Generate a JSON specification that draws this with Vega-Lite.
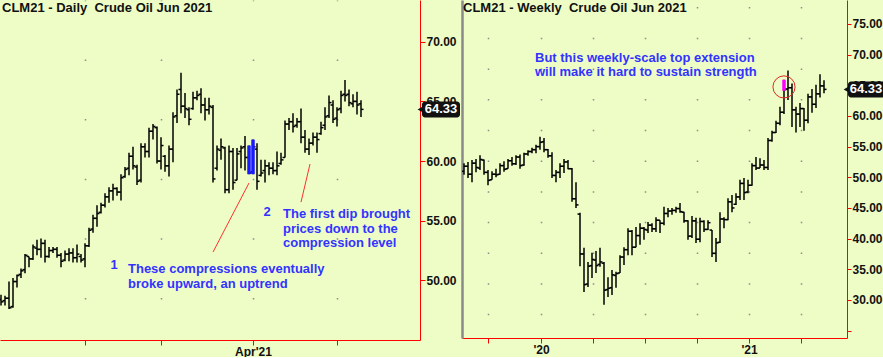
{
"$schema":"https://vega.github.io/schema/vega-lite/v6.json",
"background":"#EEFDC6",
"padding":0,
"autosize":{"type":"pad"},
"bounds":"flush",
"spacing":42,
"config":{"view":{"stroke":null},"font":"Liberation Sans","axis":{"labelFont":"Liberation Sans"}},
"datasets":{
"daily":[
{"i":0,"o":48.4,"h":48.8,"l":47.9,"c":48.2},{"i":1,"o":48.3,"h":48.7,"l":47.9,"c":48.5},{"i":2,"o":48.5,"h":49.9,"l":47.6,"c":47.7},{"i":3,"o":47.8,"h":50.2,"l":47.7,"c":49.9},{"i":4,"o":49.9,"h":50.5,"l":49.4,"c":50.4},{"i":5,"o":50.5,"h":51.0,"l":50.2,"c":50.8},{"i":6,"o":50.9,"h":52.2,"l":50.6,"c":52.1},{"i":7,"o":52.0,"h":52.0,"l":51.1,"c":51.8},{"i":8,"o":51.8,"h":53.0,"l":51.7,"c":52.8},{"i":9,"o":52.7,"h":53.4,"l":52.1,"c":52.6},
{"i":10,"o":52.6,"h":53.5,"l":51.9,"c":53.1},{"i":11,"o":53.1,"h":53.4,"l":51.5,"c":52.0},{"i":12,"o":52.0,"h":52.8,"l":51.9,"c":52.5},{"i":13,"o":52.5,"h":52.8,"l":52.3,"c":52.6},{"i":14,"o":52.6,"h":52.8,"l":51.9,"c":52.1},{"i":15,"o":52.1,"h":52.3,"l":51.1,"c":51.6},{"i":16,"o":51.7,"h":52.5,"l":51.6,"c":52.2},{"i":17,"o":52.2,"h":52.7,"l":51.6,"c":52.3},{"i":18,"o":52.3,"h":52.7,"l":51.5,"c":51.9},{"i":19,"o":51.9,"h":53.0,"l":51.5,"c":52.2},
{"i":20,"o":52.0,"h":52.2,"l":51.5,"c":51.7},{"i":21,"o":51.8,"h":53.1,"l":51.1,"c":52.9},{"i":22,"o":52.9,"h":54.4,"l":52.8,"c":54.2},{"i":23,"o":54.3,"h":55.5,"l":54.0,"c":55.2},{"i":24,"o":55.2,"h":56.3,"l":54.5,"c":55.6},{"i":25,"o":55.7,"h":56.5,"l":55.6,"c":56.3},{"i":26,"o":56.3,"h":57.3,"l":56.1,"c":57.0},{"i":27,"o":57.0,"h":57.8,"l":56.5,"c":57.5},{"i":28,"o":57.5,"h":58.1,"l":56.7,"c":57.7},{"i":29,"o":57.7,"h":57.8,"l":57.1,"c":57.4},
{"i":30,"o":57.4,"h":58.9,"l":56.7,"c":58.6},{"i":31,"o":58.7,"h":59.5,"l":58.6,"c":59.3},{"i":32,"o":59.4,"h":60.7,"l":58.8,"c":60.4},{"i":33,"o":60.4,"h":61.2,"l":59.3,"c":59.6},{"i":34,"o":59.5,"h":59.7,"l":58.0,"c":58.3},{"i":35,"o":58.4,"h":61.5,"l":58.2,"c":61.2},{"i":36,"o":61.2,"h":61.5,"l":60.3,"c":60.8},{"i":37,"o":60.8,"h":62.8,"l":60.3,"c":62.5},{"i":38,"o":62.5,"h":63.1,"l":61.8,"c":62.9},{"i":39,"o":62.8,"h":62.9,"l":59.8,"c":60.0},
{"i":40,"o":60.0,"h":62.0,"l":59.3,"c":61.3},{"i":41,"o":60.4,"h":60.5,"l":59.1,"c":59.6},{"i":42,"o":59.6,"h":61.3,"l":58.7,"c":61.0},{"i":43,"o":61.0,"h":64.1,"l":59.9,"c":63.7},{"i":44,"o":63.8,"h":66.0,"l":63.2,"c":65.6},{"i":45,"o":66.0,"h":67.4,"l":64.0,"c":64.6},{"i":46,"o":64.6,"h":65.7,"l":63.6,"c":64.4},{"i":47,"o":64.3,"h":64.5,"l":63.0,"c":63.5},{"i":48,"o":64.4,"h":65.8,"l":64.3,"c":65.3},{"i":49,"o":65.3,"h":65.9,"l":65.1,"c":65.5},
{"i":50,"o":65.6,"h":66.1,"l":64.0,"c":64.7},{"i":51,"o":64.7,"h":65.3,"l":63.4,"c":64.3},{"i":52,"o":64.3,"h":65.3,"l":63.9,"c":64.6},{"i":53,"o":64.5,"h":64.7,"l":58.2,"c":58.5},{"i":54,"o":59.4,"h":61.3,"l":59.2,"c":61.0},{"i":55,"o":60.9,"h":61.9,"l":60.1,"c":61.2},{"i":56,"o":61.1,"h":61.2,"l":57.3,"c":57.6},{"i":57,"o":57.6,"h":61.3,"l":57.3,"c":60.8},{"i":58,"o":60.8,"h":61.1,"l":57.6,"c":58.2},{"i":59,"o":58.4,"h":61.1,"l":58.4,"c":60.6},
{"i":60,"o":60.8,"h":61.3,"l":59.4,"c":61.1},{"i":61,"o":61.2,"h":62.1,"l":59.2,"c":60.3},{"i":62,"o":60.3,"h":61.3,"l":58.9,"c":59.0,"hl":1},{"i":63,"o":59.1,"h":61.8,"l":58.9,"c":61.2,"hl":1},{"i":64,"o":61.0,"h":61.5,"l":57.6,"c":58.3},{"i":65,"o":58.8,"h":60.1,"l":58.7,"c":59.0},{"i":66,"o":59.2,"h":60.1,"l":58.2,"c":59.6},{"i":67,"o":59.6,"h":59.9,"l":58.8,"c":59.4},{"i":68,"o":59.4,"h":59.9,"l":58.9,"c":59.2},{"i":69,"o":59.2,"h":60.8,"l":58.8,"c":59.6},
{"i":70,"o":59.8,"h":60.7,"l":59.7,"c":60.1},{"i":71,"o":60.3,"h":63.4,"l":60.3,"c":63.1},{"i":72,"o":63.1,"h":63.6,"l":62.6,"c":63.3},{"i":73,"o":63.3,"h":64.0,"l":62.4,"c":62.9},{"i":74,"o":63.0,"h":63.6,"l":62.8,"c":63.3},{"i":75,"o":63.3,"h":64.4,"l":61.5,"c":62.0},{"i":76,"o":62.0,"h":62.6,"l":60.7,"c":61.0},{"i":77,"o":61.0,"h":61.9,"l":60.5,"c":61.5},{"i":78,"o":61.5,"h":62.4,"l":61.3,"c":62.0},{"i":79,"o":62.0,"h":62.4,"l":60.7,"c":61.8},
{"i":80,"o":62.3,"h":63.3,"l":62.2,"c":62.8},{"i":81,"o":63.0,"h":64.5,"l":62.6,"c":63.7},{"i":82,"o":63.8,"h":65.5,"l":63.6,"c":64.9},{"i":83,"o":64.7,"h":65.1,"l":63.2,"c":63.5},{"i":84,"o":63.6,"h":64.5,"l":62.9,"c":64.3},{"i":85,"o":64.4,"h":65.9,"l":64.0,"c":65.5},{"i":86,"o":65.6,"h":66.8,"l":65.0,"c":65.5},{"i":87,"o":65.6,"h":66.0,"l":64.6,"c":64.9},{"i":88,"o":64.8,"h":65.6,"l":64.5,"c":65.0},{"i":89,"o":65.0,"h":65.8,"l":63.9,"c":64.7},
{"i":90,"o":64.8,"h":65.1,"l":63.7,"c":64.33}
],
"weekly":[
{"j":0,"o":51.0,"h":52.3,"l":50.4,"c":51.8},{"j":1,"o":51.8,"h":52.5,"l":49.9,"c":50.5},{"j":2,"o":50.5,"h":52.8,"l":49.2,"c":52.3},{"j":3,"o":52.3,"h":53.0,"l":50.8,"c":51.6},{"j":4,"o":51.5,"h":53.6,"l":51.2,"c":52.9},{"j":5,"o":52.8,"h":52.9,"l":50.4,"c":50.8},{"j":6,"o":50.8,"h":51.2,"l":48.7,"c":49.5},{"j":7,"o":49.6,"h":51.0,"l":49.6,"c":50.5},{"j":8,"o":50.5,"h":51.4,"l":50.0,"c":50.4},{"j":9,"o":50.5,"h":52.3,"l":50.4,"c":51.9},
{"j":10,"o":51.9,"h":52.6,"l":50.9,"c":51.3},{"j":11,"o":51.4,"h":53.0,"l":51.4,"c":52.7},{"j":12,"o":52.7,"h":53.3,"l":51.9,"c":52.2},{"j":13,"o":52.2,"h":53.6,"l":52.0,"c":53.3},{"j":14,"o":53.3,"h":53.7,"l":51.4,"c":51.9},{"j":15,"o":52.0,"h":54.0,"l":51.9,"c":53.8},{"j":16,"o":53.8,"h":54.4,"l":53.5,"c":54.2},{"j":17,"o":54.2,"h":54.8,"l":53.9,"c":54.5},{"j":18,"o":54.5,"h":55.3,"l":53.9,"c":55.0},{"j":19,"o":55.0,"h":56.6,"l":54.5,"c":55.7},
{"j":20,"o":55.8,"h":56.4,"l":54.1,"c":54.5},{"j":21,"o":54.5,"h":54.6,"l":53.2,"c":53.5},{"j":22,"o":53.5,"h":54.1,"l":49.9,"c":50.3},{"j":23,"o":50.3,"h":51.2,"l":49.2,"c":50.8},{"j":24,"o":50.8,"h":52.3,"l":49.9,"c":51.8},{"j":25,"o":51.8,"h":53.0,"l":50.7,"c":52.5},{"j":26,"o":52.5,"h":52.8,"l":51.3,"c":51.4},{"j":27,"o":51.4,"h":51.5,"l":46.0,"c":46.5},{"j":28,"o":46.5,"h":49.2,"l":45.0,"c":45.5},{"j":29,"o":44.0,"h":44.2,"l":35.5,"c":37.5},
{"j":30,"o":37.5,"h":38.5,"l":31.3,"c":32.5},{"j":31,"o":32.6,"h":36.2,"l":32.1,"c":35.5},{"j":32,"o":35.6,"h":37.7,"l":33.6,"c":36.6},{"j":33,"o":36.5,"h":38.0,"l":34.4,"c":35.6},{"j":34,"o":35.8,"h":38.5,"l":35.4,"c":36.2},{"j":35,"o":36.0,"h":36.2,"l":29.2,"c":31.6},{"j":36,"o":31.7,"h":33.7,"l":30.5,"c":31.9},{"j":37,"o":32.0,"h":34.9,"l":30.8,"c":34.1},{"j":38,"o":34.0,"h":34.6,"l":32.0,"c":34.3},{"j":39,"o":34.4,"h":37.3,"l":34.4,"c":37.0},
{"j":40,"o":37.0,"h":38.6,"l":35.7,"c":38.2},{"j":41,"o":38.2,"h":41.7,"l":37.3,"c":41.2},{"j":42,"o":41.2,"h":41.4,"l":37.3,"c":38.6},{"j":43,"o":38.6,"h":41.9,"l":38.6,"c":40.5},{"j":44,"o":40.5,"h":42.5,"l":39.0,"c":41.7},{"j":45,"o":41.7,"h":41.9,"l":39.8,"c":41.5},{"j":46,"o":41.4,"h":42.7,"l":40.9,"c":42.2},{"j":47,"o":42.2,"h":42.5,"l":41.1,"c":41.6},{"j":48,"o":41.6,"h":43.5,"l":41.1,"c":43.0},{"j":49,"o":43.0,"h":43.0,"l":40.9,"c":42.5},
{"j":50,"o":42.5,"h":45.2,"l":42.2,"c":44.1},{"j":51,"o":44.1,"h":45.0,"l":43.5,"c":44.5},{"j":52,"o":44.5,"h":45.0,"l":43.9,"c":44.6},{"j":53,"o":44.6,"h":45.2,"l":44.2,"c":44.9},{"j":54,"o":44.9,"h":45.8,"l":44.2,"c":44.4},{"j":55,"o":44.3,"h":44.4,"l":42.6,"c":42.9},{"j":56,"o":42.9,"h":43.0,"l":39.8,"c":40.4},{"j":57,"o":40.4,"h":43.7,"l":40.1,"c":42.9},{"j":58,"o":42.9,"h":43.4,"l":39.3,"c":39.9},{"j":59,"o":39.9,"h":43.4,"l":39.4,"c":42.8},
{"j":60,"o":42.8,"h":43.0,"l":41.1,"c":41.5},{"j":61,"o":41.5,"h":43.0,"l":41.4,"c":42.6},{"j":62,"o":41.4,"h":41.4,"l":37.0,"c":37.6},{"j":63,"o":37.6,"h":40.1,"l":36.2,"c":39.3},{"j":64,"o":39.4,"h":44.3,"l":39.3,"c":43.2},{"j":65,"o":43.2,"h":43.5,"l":41.7,"c":43.1},{"j":66,"o":43.1,"h":46.6,"l":43.0,"c":46.0},{"j":67,"o":46.0,"h":47.1,"l":44.3,"c":45.0},{"j":68,"o":45.6,"h":47.4,"l":45.5,"c":46.8},{"j":69,"o":46.8,"h":49.6,"l":46.3,"c":49.0},
{"j":70,"o":49.0,"h":49.9,"l":46.3,"c":47.5},{"j":71,"o":47.6,"h":49.6,"l":47.4,"c":48.7},{"j":72,"o":48.7,"h":52.3,"l":48.6,"c":51.9},{"j":73,"o":51.9,"h":53.3,"l":51.2,"c":51.5},{"j":74,"o":51.5,"h":53.1,"l":51.5,"c":52.0},{"j":75,"o":52.0,"h":52.8,"l":51.2,"c":51.6},{"j":76,"o":51.6,"h":56.4,"l":51.2,"c":56.0},{"j":77,"o":56.0,"h":57.6,"l":55.8,"c":57.3},{"j":78,"o":57.3,"h":59.2,"l":57.2,"c":58.8},{"j":79,"o":58.8,"h":61.5,"l":58.5,"c":60.6},
{"j":80,"o":60.6,"h":65.9,"l":60.3,"c":64.3,"mlo":64.1,"mhi":65.9},{"j":81,"o":64.4,"h":67.4,"l":62.6,"c":64.6},{"j":82,"o":64.6,"h":65.3,"l":58.2,"c":61.0},{"j":83,"o":61.0,"h":61.5,"l":57.3,"c":60.3},{"j":84,"o":60.3,"h":62.1,"l":58.2,"c":61.2},{"j":85,"o":61.2,"h":61.3,"l":57.6,"c":59.3},{"j":86,"o":59.3,"h":63.6,"l":58.8,"c":63.1},{"j":87,"o":63.1,"h":64.4,"l":60.5,"c":61.9},{"j":88,"o":61.9,"h":65.1,"l":61.3,"c":63.6},{"j":89,"o":63.6,"h":66.8,"l":63.0,"c":64.9},
{"j":90,"o":64.9,"h":65.8,"l":63.7,"c":64.33}
]
},
"hconcat":[
{
"width":420,"height":340,
"layer":[
{"data":{"name":"daily"},"mark":{"type":"rule","color":"#000","strokeWidth":1.5,"clip":true},
 "encoding":{
  "x":{"field":"i","type":"quantitative","scale":{"domain":[-0.25,104.75],"nice":false,"zero":false},
   "axis":{"values":[21,40,63,84],"labelExpr":"datum.value == 63 ? \"Apr'21\" : ''","title":null,"grid":true,"gridColor":"#8c8c8c","gridWidth":1.5,"gridDash":[1.5,58.15],"gridDashOffset":0.75,"domainColor":"#ff0000","tickColor":"#ff0000","tickSize":5,"labelFontWeight":"bold","labelFontSize":12,"labelColor":"#111","labelPadding":1,"labelFlush":false,"labelOverlap":false}},
  "y":{"field":"l","type":"quantitative","scale":{"domain":[45,73.5],"nice":false,"zero":false},
   "axis":{"orient":"right","values":[50,55,60,65,70],"format":".2f","title":null,"grid":false,"domainColor":"#ff0000","tickColor":"#ff0000","tickSize":5,"labelFontWeight":"bold","labelFontSize":12,"labelColor":"#111","labelPadding":1,"labelOverlap":false}},
  "y2":{"field":"h"}}},
{"data":{"name":"daily"},"mark":{"type":"rule","color":"#000","strokeWidth":1.5,"xOffset":-2.5,"x2Offset":0,"clip":true},
 "encoding":{"x":{"field":"i","type":"quantitative","axis":{"title":null}},"x2":{"field":"i"},"y":{"field":"o","type":"quantitative","axis":{"title":null}},"y2":{"field":"o"}}},
{"data":{"name":"daily"},"mark":{"type":"rule","color":"#000","strokeWidth":1.5,"xOffset":0,"x2Offset":2.5,"clip":true},
 "encoding":{"x":{"field":"i","type":"quantitative","axis":{"title":null}},"x2":{"field":"i"},"y":{"field":"c","type":"quantitative","axis":{"title":null}},"y2":{"field":"c"}}},
{"data":{"name":"daily"},"transform":[{"filter":"datum.hl == 1"}],"mark":{"type":"rule","color":"#1a1aff","strokeWidth":3.5},
 "encoding":{"x":{"field":"i","type":"quantitative","axis":{"title":null}},"y":{"field":"l","type":"quantitative","axis":{"title":null}},"y2":{"field":"h"}}},
{"data":{"values":[{"t":"CLM21 - Daily\u00a0 Crude Oil Jun 2021"}]},"mark":{"type":"text","align":"left","baseline":"top","dx":2,"dy":2,"fontSize":13,"fontWeight":"bold","color":"#111"},
 "encoding":{"x":{"datum":-0.25,"type":"quantitative","axis":{"title":null}},"y":{"datum":73.5,"type":"quantitative","axis":{"title":null}},"text":{"field":"t"}}},
{"data":{"values":[
 {"i":31.75,"p":50.95,"t":"These compressions eventually"},
 {"i":31.75,"p":49.69,"t":"broke upward, an uptrend"},
 {"i":70.5,"p":55.56,"t":"The first dip brought"},
 {"i":70.5,"p":54.3,"t":"prices down to the"},
 {"i":70.5,"p":53.13,"t":"compression level"}]},
 "mark":{"type":"text","align":"left","baseline":"middle","fontSize":13,"fontWeight":"bold","color":"#3333ff"},
 "encoding":{"x":{"field":"i","type":"quantitative","axis":{"title":null}},"y":{"field":"p","type":"quantitative","axis":{"title":null}},"text":{"field":"t"}}},
{"data":{"values":[
 {"i":28.25,"p":51.28,"t":"1"},
 {"i":66.5,"p":55.72,"t":"2"}]},
 "mark":{"type":"text","align":"center","baseline":"middle","fontSize":13,"fontWeight":"bold","color":"#3333ff"},
 "encoding":{"x":{"field":"i","type":"quantitative","axis":{"title":null}},"y":{"field":"p","type":"quantitative","axis":{"title":null}},"text":{"field":"t"}}},
{"data":{"values":[{"i":53,"p":52.37,"i2":62,"p2":58.16},{"i":75,"p":56.56,"i2":77.25,"p2":59.75}]},
 "mark":{"type":"rule","color":"#ff3030","strokeWidth":1},
 "encoding":{"x":{"field":"i","type":"quantitative","axis":{"title":null}},"y":{"field":"p","type":"quantitative","axis":{"title":null}},"x2":{"field":"i2"},"y2":{"field":"p2"}}},
{"data":{"values":[{"p":64.33,"t":"64.33"}]},"mark":{"type":"rect","color":"#111","xOffset":2,"x2Offset":40,"yOffset":-8,"y2Offset":8,"cornerRadius":3,"clip":false},
 "encoding":{"x":{"datum":104.75,"type":"quantitative","axis":{"title":null}},"x2":{"datum":104.75},"y":{"field":"p","type":"quantitative","axis":{"title":null}},"y2":{"field":"p"}}},
{"data":{"values":[{"p":64.33}]},"mark":{"type":"point","shape":"triangle-left","filled":true,"color":"#111","size":60,"opacity":1,"xOffset":1},
 "encoding":{"x":{"datum":104.75,"type":"quantitative","axis":{"title":null}},"y":{"field":"p","type":"quantitative","axis":{"title":null}}}},
{"data":{"values":[{"p":64.33,"t":"64.33"}]},"mark":{"type":"text","color":"#fff","fontSize":13,"fontWeight":"bold","align":"center","baseline":"middle","dx":21},
 "encoding":{"x":{"datum":104.75,"type":"quantitative","axis":{"title":null}},"y":{"field":"p","type":"quantitative","axis":{"title":null}},"text":{"field":"t"}}}
]
},
{
"width":385,"height":338,
"resolve":{"axis":{"y":"independent"}},
"layer":[
{"data":{"name":"weekly"},"mark":{"type":"rule","color":"#000","strokeWidth":1.5,"clip":true},
 "encoding":{
  "x":{"field":"j","type":"quantitative","scale":{"domain":[-0.5,95.75],"nice":false,"zero":false},
   "axis":{"values":[6,19.25,32.25,45.25,58.25,71.25,84.25],"labelExpr":"datum.value == 19.25 ? \"'20\" : datum.value == 71.25 ? \"'21\" : ''","title":null,"grid":true,"gridColor":"#8c8c8c","gridWidth":1.5,"gridDash":[1.5,29.17],"gridDashOffset":24.06,"domainColor":"#ff0000","tickColor":"#ff0000","tickSize":5,"labelFontWeight":"bold","labelFontSize":12,"labelColor":"#111","labelPadding":1,"labelFlush":false,"labelOverlap":false}},
  "y":{"field":"l","type":"quantitative","scale":{"domain":[23.8,78.9],"nice":false,"zero":false},
   "axis":{"orient":"right","values":[25,30,35,40,45,50,55,60,65,70,75],"labelExpr":"datum.value == 25 ? '' : format(datum.value, '.2f')","title":null,"grid":false,"domainColor":"#ff0000","tickColor":"#ff0000","tickSize":4,"labelFontWeight":"bold","labelFontSize":12,"labelColor":"#111","labelPadding":1,"labelOverlap":false}},
  "y2":{"field":"h"}}},
{"data":{"name":"weekly"},"mark":{"type":"rule","color":"#000","strokeWidth":1.5,"xOffset":-2.5,"x2Offset":0,"clip":true},
 "encoding":{"x":{"field":"j","type":"quantitative","axis":{"title":null}},"x2":{"field":"j"},"y":{"field":"o","type":"quantitative","axis":null},"y2":{"field":"o"}}},
{"data":{"name":"weekly"},"mark":{"type":"rule","color":"#000","strokeWidth":1.5,"xOffset":0,"x2Offset":2.5,"clip":true},
 "encoding":{"x":{"field":"j","type":"quantitative","axis":{"title":null}},"x2":{"field":"j"},"y":{"field":"c","type":"quantitative","axis":null},"y2":{"field":"c"}}},
{"data":{"name":"weekly"},"transform":[{"filter":"isValid(datum.mlo)"}],"mark":{"type":"rule","color":"#ff00ff","strokeWidth":3.5},
 "encoding":{"x":{"field":"j","type":"quantitative","axis":{"title":null}},"y":{"field":"mlo","type":"quantitative","axis":null},"y2":{"field":"mhi"}}},
{"data":{"values":[{"j":80,"p":64.73}]},"mark":{"type":"point","shape":"circle","filled":false,"color":"#e02828","strokeWidth":1,"size":490,"opacity":1},
 "encoding":{"x":{"field":"j","type":"quantitative","axis":{"title":null}},"y":{"field":"p","type":"quantitative","axis":null}}},
{"data":{"values":[{"t":"CLM21 - Weekly\u00a0 Crude Oil Jun 2021"}]},"mark":{"type":"text","align":"left","baseline":"top","dx":1,"dy":2,"fontSize":13,"fontWeight":"bold","color":"#111"},
 "encoding":{"x":{"datum":-0.5,"type":"quantitative","axis":{"title":null}},"y":{"datum":78.9,"type":"quantitative","axis":{"orient":"left","labels":false,"ticks":false,"grid":false,"title":null,"domainColor":"#8a8a8a","domainWidth":2.5,"minExtent":0,"maxExtent":0}},"text":{"field":"t"}}},
{"data":{"values":[
 {"j":17.75,"p":69.46,"t":"But this weekly-scale top extension"},
 {"j":17.75,"p":67.17,"t":"will make it hard to sustain strength"}]},
 "mark":{"type":"text","align":"left","baseline":"middle","fontSize":13,"fontWeight":"bold","color":"#3333ff"},
 "encoding":{"x":{"field":"j","type":"quantitative","axis":{"title":null}},"y":{"field":"p","type":"quantitative","axis":null},"text":{"field":"t"}}},
{"data":{"values":[{"p":64.33}]},"mark":{"type":"rect","color":"#111","xOffset":1,"x2Offset":38,"yOffset":-8,"y2Offset":8,"cornerRadius":3,"clip":false},
 "encoding":{"x":{"datum":95.75,"type":"quantitative","axis":{"title":null}},"x2":{"datum":95.75},"y":{"field":"p","type":"quantitative","axis":null},"y2":{"field":"p"}}},
{"data":{"values":[{"p":64.33}]},"mark":{"type":"point","shape":"triangle-left","filled":true,"color":"#111","size":60,"opacity":1,"xOffset":0},
 "encoding":{"x":{"datum":95.75,"type":"quantitative","axis":{"title":null}},"y":{"field":"p","type":"quantitative","axis":null}}},
{"data":{"values":[{"p":64.33,"t":"64.33"}]},"mark":{"type":"text","color":"#fff","fontSize":13,"fontWeight":"bold","align":"center","baseline":"middle","dx":19},
 "encoding":{"x":{"datum":95.75,"type":"quantitative","axis":{"title":null}},"y":{"field":"p","type":"quantitative","axis":null},"text":{"field":"t"}}}
]
}
]
}
